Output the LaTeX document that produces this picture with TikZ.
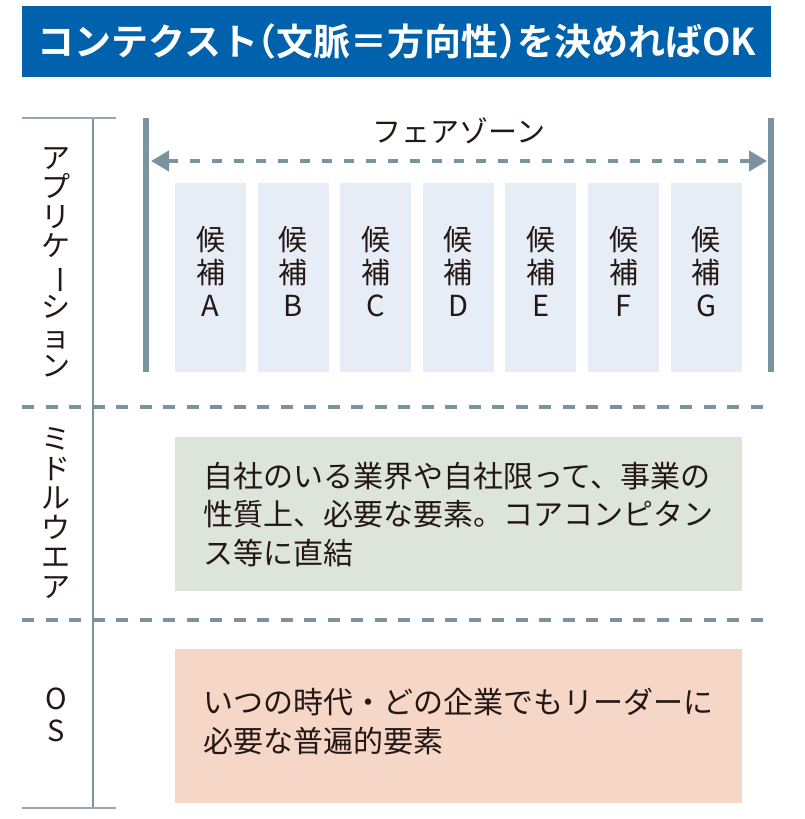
\documentclass[tikz,border=0pt]{standalone}
\usepackage{fontspec}
\setmainfont{Noto Sans CJK JP}[BoldFont={Noto Sans CJK JP Bold}]
\usetikzlibrary{arrows.meta}
\definecolor{titleblue}{HTML}{0062AC}
\definecolor{linegray}{HTML}{7B939F}
\definecolor{rulegray}{HTML}{9AA6AD}
\definecolor{candfill}{HTML}{E6EDF6}
\definecolor{midfill}{HTML}{DDE5DB}
\definecolor{osfill}{HTML}{F6D6C6}
\definecolor{ink}{HTML}{231815}
\newcommand{\halfp}[1]{{\addfontfeature{RawFeature=+halt}#1}}
\tikzset{
  cand/.style={fill=candfill, minimum width=71pt, minimum height=189pt, align=center, text depth=12pt, text=ink, font=\fontsize{29}{33}\selectfont},
  layer/.style={fill=#1, anchor=north west, minimum width=567pt, minimum height=154pt, text width=511pt, align=left, text=ink, font=\fontsize{30}{38.5}\selectfont},
  side/.style={align=center, text=ink, font=\fontsize{29}{29.5}\selectfont},
  sep/.style={linegray, line width=4pt, dash pattern=on 12pt off 11.5pt},
}

\begin{document}
\begin{tikzpicture}[x=1pt,y=-1pt, inner sep=0pt, >={Triangle[length=18pt,width=20pt]}]
\useasboundingbox (0,0) rectangle (805,819);
\node (title) at (396.5,41.5) [fill=titleblue, minimum width=749pt, minimum height=71pt, text=white, font=\bfseries\fontsize{37}{37}\selectfont] {コンテクスト\halfp{（}文脈＝方向性\halfp{）}を決めればOK};
% left axis
\coordinate (axt) at (93,118);
\coordinate (axb) at (93,808);
\coordinate (tl) at (22,118);
\coordinate (tr) at (116,118);
\coordinate (bl) at (22,808);
\coordinate (br) at (116,808);
\draw[linegray, line width=1.3pt] (axt) -- (axb);
\draw[rulegray, line width=1.3pt] (tl) -- (tr);
\draw[rulegray, line width=1.3pt] (bl) -- (br);
% separators
\coordinate (s1l) at (22,407);
\coordinate (s1r) at (770,407);
\coordinate (s2l) at (22,620);
\coordinate (s2r) at (770,620);
\draw[sep] (s1l) -- (s1r);
\draw[sep] (s2l) -- (s2r);
% fair zone
\coordinate (zlt) at (145.5,118);
\coordinate (zlb) at (145.5,372);
\coordinate (zrt) at (771,118);
\coordinate (zrb) at (771,372);
\coordinate (al) at (151,161);
\coordinate (ar) at (767,161);
\draw[linegray, line width=6pt] (zlt) -- (zlb);
\draw[linegray, line width=6pt] (zrt) -- (zrb);
\draw[<->, linegray, line width=4pt, dash pattern=on 10pt off 12pt] (al) -- (ar);
\node (zone) at (459,131) [text=ink, font=\fontsize{29}{29}\selectfont] {フェアゾーン};
\foreach \l [count=\i from 0] in {A,B,C,D,E,F,G}
  \node (cand\l) at (210.5+82.6*\i,277.5) [cand] {候\\補\\\l};
% layers
\node (mid) at (175,437) [layer=midfill] {自社のいる業界や自社限って、事業の\\性質上、必要な要素。コアコンピタン\\ス等に直結};
\node (os) at (175,649) [layer=osfill, text depth=50pt] {いつの時代・どの企業でもリーダーに\\必要な普遍的要素};
\node (lapp) at (56,262) [side] {ア\\プ\\リ\\ケ\\\rotatebox[origin=c]{-90}{ー}\\シ\\ョ\\ン};
\node (lmid) at (56,513) [side] {ミ\\ド\\ル\\ウ\\エ\\ア};
\node (los) at (56,715) [side, font=\fontsize{29}{31.5}\selectfont] {O\\S};
\end{tikzpicture}
\end{document}
